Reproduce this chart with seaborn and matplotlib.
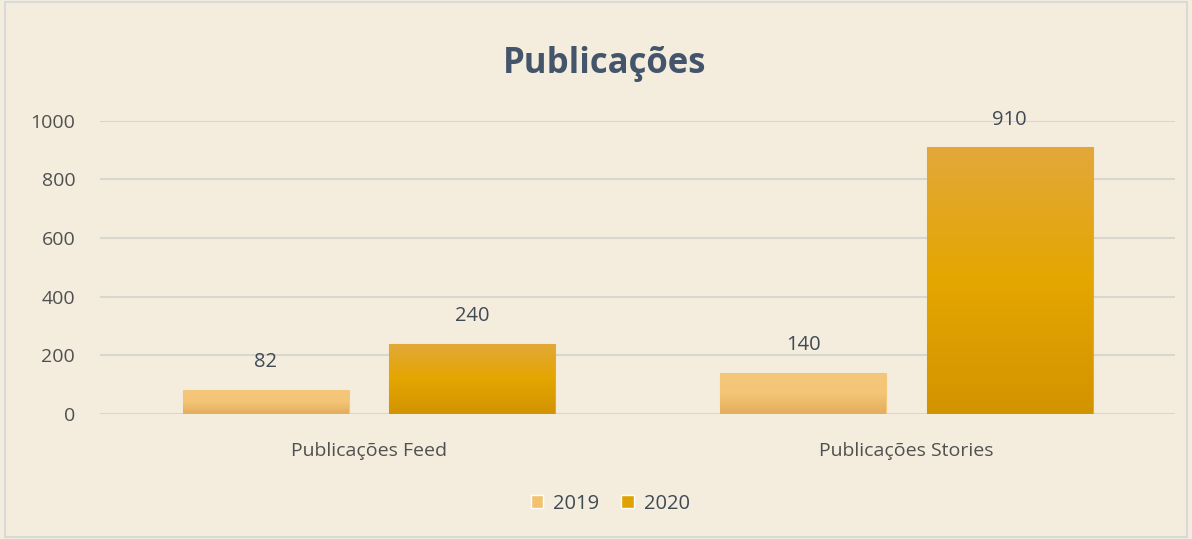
import numpy as np
import pandas as pd
import seaborn as sns
import matplotlib.pyplot as plt
from matplotlib.colors import LinearSegmentedColormap

categories = ["Publicações Feed", "Publicações Stories"]
years = ["2019", "2020"]
values_2019 = [82, 140]
values_2020 = [240, 910]

data = pd.DataFrame({
    "categoria": categories * 2,
    "ano": [years[0]] * 2 + [years[1]] * 2,
    "valor": values_2019 + values_2020,
})

bg = "#F4EDDE"
sns.set_theme(style="white")
plt.rcParams["font.family"] = ["Open Sans", "DejaVu Sans"]

fig = plt.figure(figsize=(11.92, 5.39), dpi=100, facecolor=bg)
ax = fig.add_axes([0.084, 0.232, 0.902, 0.544], facecolor=bg)

palette = {"2019": "#F2C271", "2020": "#E0A200"}
sns.barplot(data=data, x="categoria", y="valor", hue="ano", palette=palette,
            width=0.767, gap=0.195, ax=ax, legend=True, saturation=1)

# gradient fills like the spreadsheet style
grads = {
    "2019": ["#F5C77B", "#F4C576", "#E2AD5C"],
    "2020": ["#E2A83A", "#E4A600", "#D29300"],
}
bars = [p for p in ax.patches if p.get_height() > 0 and p.get_width() < 1]
for i, p in enumerate(bars):
    yr = years[i // len(categories)]
    cmap = LinearSegmentedColormap.from_list(yr, grads[yr][::-1])
    x0, y0 = p.get_x(), p.get_y()
    w, h = p.get_width(), p.get_height()
    grad = np.linspace(0, 1, 256).reshape(-1, 1)
    im = ax.imshow(grad, cmap=cmap, aspect="auto", origin="lower",
                   extent=[x0, x0 + w, y0, y0 + h], zorder=p.get_zorder())
    im.set_clip_path(p)
    p.set_edgecolor(grads[yr][0])
    p.set_linewidth(0.8)
    ax.text(x0 + w / 2, y0 + h + 60, f"{int(h)}", ha="center", va="bottom",
            fontsize=14.5, color="#404A55")

ax.set_xlim(-0.5, 1.5)
ax.set_ylim(0, 1000)
ax.set_yticks(range(0, 1001, 200))
ax.yaxis.grid(True, color="#D9D6CE", linewidth=1.5)
ax.set_axisbelow(True)
for s in ax.spines.values():
    s.set_visible(False)
ax.set_xlabel("")
ax.set_ylabel("")
ax.tick_params(axis="y", labelsize=14, labelcolor="#505050", length=0, pad=18)
ax.tick_params(axis="x", labelsize=14, labelcolor="#505050", length=0, pad=20)

fig.suptitle("Publicações", x=0.507, y=0.915, fontsize=25, fontweight="bold",
             color="#44546A")

handles, labels = ax.get_legend_handles_labels()
ax.legend(handles, labels, loc="center", bbox_to_anchor=(0.512, 0.065),
          bbox_transform=fig.transFigure, ncol=2, frameon=False,
          fontsize=14.5, handlelength=0.6, handleheight=0.6,
          handletextpad=0.5, columnspacing=1.1, labelcolor="#404A55")

fig.patches.append(plt.Rectangle((0.004, 0.004), 0.992, 0.992,
                                 transform=fig.transFigure, fill=False,
                                 edgecolor="#D9D9D9", linewidth=1.5))

fig.savefig("out.png", dpi=100, facecolor=bg)
